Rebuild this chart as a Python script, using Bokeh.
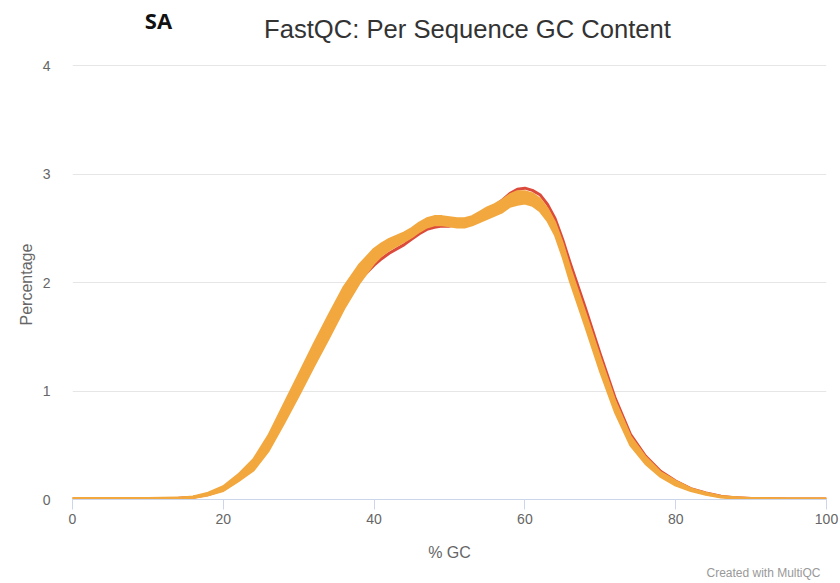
from bokeh.plotting import figure
from bokeh.models import Label, Title, FixedTicker, Range1d
from bokeh.embed import file_html
from bokeh.resources import INLINE

# ---- data ----
gc = [0, 5, 10, 14, 16, 18, 20, 22, 24, 26, 28, 30, 32, 34, 36, 38, 40,
      41, 42, 43, 44, 45, 46, 47, 48, 49, 50, 51, 52, 53, 54, 55, 56, 57, 58, 59, 60,
      61, 62, 63, 64, 65, 66,
      68, 70, 72, 74, 76, 78, 80, 82, 84, 86, 88, 90, 95, 100]
orange_hi = [0.012, 0.012, 0.012, 0.015, 0.025, 0.06, 0.12, 0.23, 0.37, 0.59, 0.87, 1.15, 1.43, 1.70,
             1.96, 2.16, 2.31,
             2.36, 2.40, 2.43, 2.46, 2.50, 2.55, 2.59, 2.61, 2.61, 2.60, 2.59, 2.59, 2.61, 2.65, 2.69,
             2.72, 2.76, 2.81, 2.84, 2.84, 2.82, 2.77, 2.68, 2.55, 2.36, 2.13,
             1.72, 1.30, 0.90, 0.58, 0.39, 0.25, 0.17, 0.10, 0.06, 0.03, 0.018, 0.012, 0.006, 0.006]
orange_mid = [0.01, 0.01, 0.01, 0.012, 0.02, 0.05, 0.10, 0.20, 0.32, 0.52, 0.78, 1.05, 1.33, 1.59,
              1.86, 2.08, 2.25,
              2.31, 2.35, 2.38, 2.42, 2.46, 2.51, 2.55, 2.57, 2.57, 2.56, 2.55, 2.55, 2.57, 2.61, 2.64,
              2.67, 2.71, 2.76, 2.79, 2.79, 2.77, 2.72, 2.63, 2.50, 2.30, 2.07,
              1.66, 1.24, 0.85, 0.54, 0.36, 0.23, 0.15, 0.09, 0.05, 0.025, 0.015, 0.01, 0.005, 0.005]
orange_lo = [0.008, 0.008, 0.008, 0.01, 0.015, 0.04, 0.08, 0.17, 0.27, 0.45, 0.70, 0.96, 1.23, 1.49,
             1.76, 1.99, 2.18,
             2.25, 2.30, 2.34, 2.38, 2.42, 2.47, 2.51, 2.53, 2.53, 2.52, 2.51, 2.51, 2.53, 2.56, 2.59,
             2.62, 2.65, 2.70, 2.72, 2.73, 2.71, 2.66, 2.57, 2.44, 2.24, 2.01,
             1.60, 1.18, 0.80, 0.50, 0.33, 0.21, 0.13, 0.08, 0.045, 0.02, 0.012, 0.008, 0.004, 0.004]
red = [0.01, 0.01, 0.01, 0.012, 0.02, 0.045, 0.09, 0.18, 0.29, 0.48, 0.74, 1.0, 1.28, 1.55,
       1.82, 2.02, 2.16,
       2.22, 2.27, 2.31, 2.35, 2.40, 2.45, 2.49, 2.51, 2.52, 2.52, 2.53, 2.54, 2.57, 2.62, 2.66,
       2.71, 2.76, 2.82, 2.86, 2.87, 2.85, 2.81, 2.72, 2.59, 2.40, 2.18,
       1.77, 1.34, 0.93, 0.60, 0.40, 0.26, 0.17, 0.10, 0.06, 0.03, 0.015, 0.01, 0.005, 0.005]
x_ticks = [0, 20, 40, 60, 80, 100]
y_ticks = [0, 1, 2, 3, 4]

ORANGE = "#f2a83e"
RED = "#dc4a3c"
FONT = "Liberation Sans"

W, H = 840, 583
# frame reaches the top of the canvas so that the title labels sit inside it
p = figure(width=W, height=H, output_backend="svg", toolbar_location=None,
           x_range=Range1d(0, 100), y_range=Range1d(0, 4.6),
           min_border_left=72, min_border_right=14, min_border_top=0, min_border_bottom=84)
p.outline_line_color = None
p.background_fill_color = "white"
p.border_fill_color = "white"

# lines
p.line(gc, red, line_color=RED, line_width=3, line_join="round")
p.varea(x=gc, y1=orange_lo, y2=orange_hi, fill_color=ORANGE, fill_alpha=1.0)
for s in (orange_hi, orange_mid, orange_lo):
    p.line(gc, s, line_color=ORANGE, line_width=2.5, line_join="round")

# grid
p.xgrid.grid_line_color = None
p.ygrid.grid_line_color = "#e6e6e6"
p.ygrid.grid_line_width = 1

# x axis
xa = p.xaxis[0]
xa.ticker = FixedTicker(ticks=x_ticks)
xa.axis_line_color = "#ccd6eb"
xa.major_tick_line_color = "#ccd6eb"
xa.major_tick_out = 10
xa.major_tick_in = 0
xa.minor_tick_line_color = None
xa.major_label_standoff = 4
xa.major_label_text_font = FONT
xa.major_label_text_font_size = "14px"
xa.major_label_text_color = "#666666"
xa.axis_label = "% GC"
xa.axis_label_text_font = FONT
xa.axis_label_text_font_size = "16px"
xa.axis_label_text_font_style = "normal"
xa.axis_label_text_color = "#666666"
xa.axis_label_standoff = 17

# y axis
ya = p.yaxis[0]
ya.ticker = FixedTicker(ticks=y_ticks)
ya.bounds = (0, 4)
ya.axis_line_color = None
ya.major_tick_line_color = None
ya.minor_tick_line_color = None
ya.major_label_standoff = 16
ya.major_label_text_font = FONT
ya.major_label_text_font_size = "14px"
ya.major_label_text_color = "#666666"

# y axis title, placed over the 0..4 span
p.add_layout(Title(text="Percentage", align="left", offset=174, standoff=9,
                   text_font=FONT, text_font_size="16px", text_font_style="normal",
                   text_color="#666666"), "left")

# texts inside the frame (screen units: from frame's bottom-left)
FRAME_LEFT, FRAME_BOTTOM = 72, H - 84
p.add_layout(Label(x=467 - FRAME_LEFT, y=FRAME_BOTTOM - 28, x_units="screen", y_units="screen",
                   text="FastQC: Per Sequence GC Content", text_font=FONT,
                   text_font_size="25.6px", text_color="#333333",
                   text_align="center", text_baseline="middle"))
p.add_layout(Label(x=158 - FRAME_LEFT, y=FRAME_BOTTOM - 19, x_units="screen", y_units="screen",
                   text="SA", text_font="Open Sans", text_font_style="bold",
                   text_font_size="22px", text_color="#111111",
                   text_align="center", text_baseline="middle"))

# credit below the x axis
p.add_layout(Title(text="Created with MultiQC", align="right", offset=6, standoff=0,
                   text_font=FONT, text_font_size="12px", text_font_style="normal",
                   text_color="#999999"), "below")

open("out.html", "w").write(file_html(p, INLINE))
